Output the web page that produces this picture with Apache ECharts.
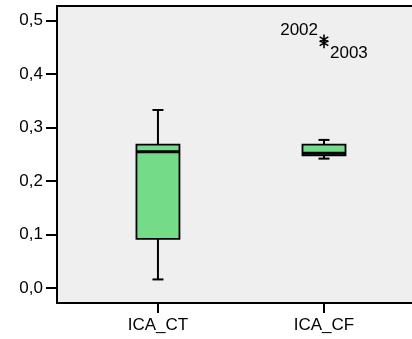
<!DOCTYPE html>
<html>
<head>
<meta charset="utf-8">
<style>html,body{margin:0;padding:0;background:#fff;}#c{width:412px;height:339px;}</style>
<script src="https://cdn.jsdelivr.net/npm/echarts@6/dist/echarts.min.js"></script>
</head>
<body>
<div id="c"></div>
<script>
const categories = ['ICA_CT', 'ICA_CF'];
// [min whisker, Q1, median, Q3, max whisker]
const boxValues = [
  [0.016, 0.092, 0.255, 0.268, 0.333],
  [0.242, 0.248, 0.252, 0.268, 0.277]
];
// [category index, value, label]
const outliers = [
  [1, 0.465, '2002'],
  [1, 0.458, '2003']
];
const yTicks = [0, 0.1, 0.2, 0.3, 0.4, 0.5];

const FONT = '"Liberation Sans", Arial, sans-serif';
const chart = echarts.init(document.getElementById('c'), null, {renderer: 'canvas'});

const boxData = boxValues.map((v, i) => [i].concat(v));

function renderBox(params, api) {
  const i = api.value(0);
  const x = api.coord([i, 0])[0];
  const yMin = api.coord([i, api.value(1)])[1];
  const yQ1 = api.coord([i, api.value(2)])[1];
  const yMed = api.coord([i, api.value(3)])[1];
  const yQ3 = api.coord([i, api.value(4)])[1];
  const yMax = api.coord([i, api.value(5)])[1];
  const bw = 43, cw = 11;
  const ls = {stroke: '#000', lineWidth: 2};
  return {
    type: 'group',
    children: [
      {type: 'line', shape: {x1: x, y1: yMax, x2: x, y2: yQ3}, style: ls},
      {type: 'line', shape: {x1: x, y1: yQ1, x2: x, y2: yMin}, style: ls},
      {type: 'line', shape: {x1: x - cw / 2, y1: yMax, x2: x + cw / 2, y2: yMax}, style: ls},
      {type: 'line', shape: {x1: x - cw / 2, y1: yMin, x2: x + cw / 2, y2: yMin}, style: ls},
      {type: 'rect', shape: {x: x - bw / 2, y: yQ3, width: bw, height: yQ1 - yQ3},
        style: {fill: '#74dc88', stroke: '#000', lineWidth: 1.8}},
      {type: 'line', shape: {x1: x - bw / 2, y1: yMed, x2: x + bw / 2, y2: yMed},
        style: {stroke: '#000', lineWidth: 3}}
    ]
  };
}

function renderStar(params, api) {
  const p = api.coord([api.value(0), api.value(1)]);
  const r = 5;
  const ls = {stroke: '#000', lineWidth: 1.6};
  const dx = r * Math.cos(Math.PI / 6), dy = r * Math.sin(Math.PI / 6);
  const first = params.dataIndex === 0;
  return {
    type: 'group',
    children: [
      {type: 'line', shape: {x1: p[0], y1: p[1] - r, x2: p[0], y2: p[1] + r}, style: ls},
      {type: 'line', shape: {x1: p[0] - dx, y1: p[1] - dy, x2: p[0] + dx, y2: p[1] + dy}, style: ls},
      {type: 'line', shape: {x1: p[0] - dx, y1: p[1] + dy, x2: p[0] + dx, y2: p[1] - dy}, style: ls},
      {type: 'text', x: first ? p[0] - 6 : p[0] + 6, y: first ? p[1] - 9 : p[1] + 10,
        style: {text: api.value(2), fill: '#000', font: '17px ' + FONT,
          align: first ? 'right' : 'left', verticalAlign: 'middle'}}
    ]
  };
}

chart.setOption({
  animation: false,
  backgroundColor: '#fff',
  grid: {left: 57, right: 0, top: 6, bottom: 36, show: true,
    backgroundColor: '#efefef', borderWidth: 0},
  xAxis: [{
    type: 'value', min: -0.608, max: 1.530,
    axisLine: {show: true, onZero: false, lineStyle: {color: '#000', width: 2}},
    axisTick: {show: true, length: 10, inside: false, customValues: [0, 1], lineStyle: {color: '#000', width: 2}},
    axisLabel: {customValues: [0, 1], margin: 14, color: '#000', fontSize: 17, fontFamily: FONT,
      formatter: v => categories[Math.round(v)] || ''},
    splitLine: {show: false}
  }, {
    type: 'value', position: 'top', min: -0.608, max: 1.530,
    axisLine: {show: true, onZero: false, lineStyle: {color: '#000', width: 2}},
    axisTick: {show: false}, axisLabel: {show: false}, splitLine: {show: false}
  }],
  yAxis: {
    type: 'value', min: -0.0281, max: 0.5275,
    axisLine: {show: true, onZero: false, lineStyle: {color: '#000', width: 2}},
    axisTick: {show: true, length: 11, customValues: yTicks, lineStyle: {color: '#000', width: 2}},
    axisLabel: {customValues: yTicks, margin: 14, color: '#000', fontSize: 17, fontFamily: FONT,
      formatter: v => v.toFixed(1).replace('.', ',')},
    splitLine: {show: false}
  },
  series: [
    {type: 'custom', renderItem: renderBox, data: boxData,
      encode: {x: 0, y: [1, 2, 3, 4, 5]}, clip: false},
    {type: 'custom', renderItem: renderStar, data: outliers,
      encode: {x: 0, y: 1}, clip: false}
  ]
});
</script>
</body>
</html>
